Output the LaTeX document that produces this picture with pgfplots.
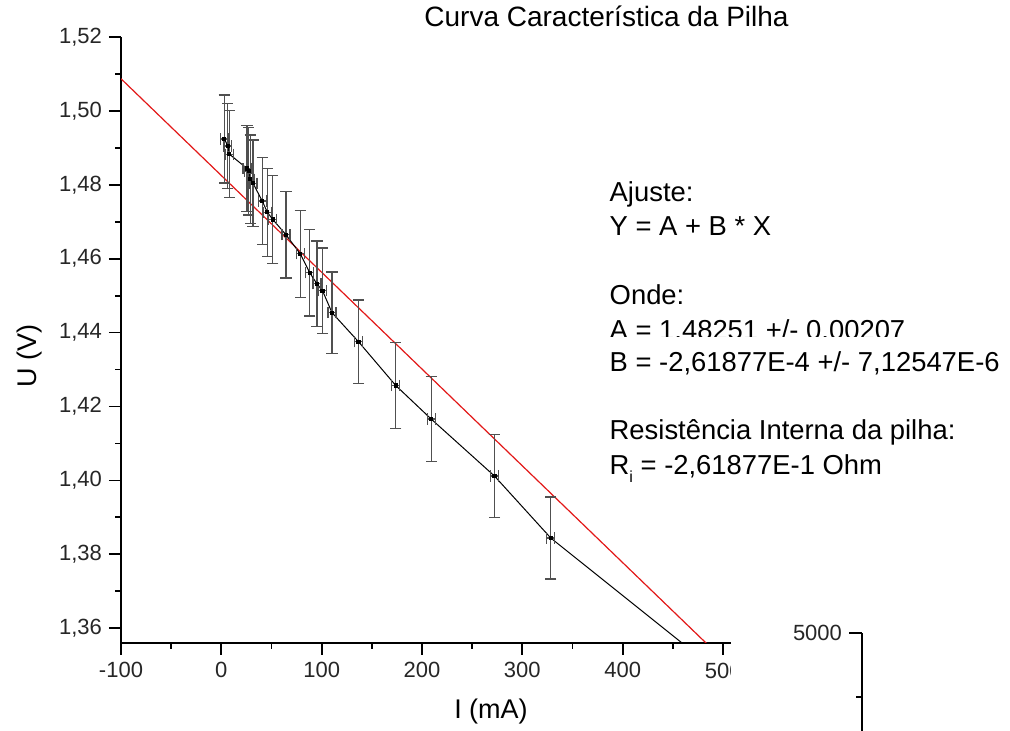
\documentclass[border=0pt]{standalone}
\usepackage{pgfplots}
\usepackage{pgfplotstable}
\pgfplotsset{compat=1.18}
\usepackage{fontspec}
\setmainfont{Liberation Sans}
\definecolor{fitred}{RGB}{226,24,24}
\definecolor{errgray}{RGB}{80,80,80}

\pgfplotstableread{
I U dI dU
3.0 1.4924 4 0.0119
6.5 1.4905 4 0.0116
8.0 1.4883 4 0.0118
25.6 1.4844 4 0.0117
27.2 1.4837 4 0.0119
28.9 1.4815 4 0.0120
31.6 1.4804 4 0.0117
40.8 1.4756 4 0.0118
45.8 1.4726 4 0.0119
51.3 1.4706 4 0.0119
64.4 1.4665 4 0.0117
78.7 1.4613 4 0.0117
88.1 1.4562 4 0.0117
95.3 1.4532 4 0.0116
100.9 1.4513 4 0.0116
110.3 1.4454 4 0.0110
136.8 1.4375 4 0.0113
173.8 1.4257 4 0.0117
209.2 1.4166 4 0.0115
272.2 1.4012 4 0.0112
328.4 1.3844 4 0.0111
556.8 1.3348 4 0.0110
}\datatable

\newcommand{\clippedlabel}{\tikz[baseline=0pt]{\clip (0,0) rectangle (1.2em,0.73em); \node[anchor=base west,inner sep=0pt] at (0,0) {500};}}

\begin{document}
\begin{tikzpicture}
\begin{axis}[
  at={(0,0)}, anchor=south west,
  scale only axis, width=305pt, height=303pt,
  xmin=-100, xmax=508, ymin=1.356, ymax=1.52,
  axis lines=left, axis line style={-, line width=0.9pt},
  tick align=outside,
  major tick length=6pt, minor tick length=3pt,
  tick style={black, line width=0.9pt},
  xtick={-100,0,100,200,300,400,500},
  minor xtick={-50,50,150,250,350,450},
  xticklabels={-100,0,100,200,300,400,{\clippedlabel}},
  ytick={1.36,1.38,1.40,1.42,1.44,1.46,1.48,1.50,1.52},
  minor ytick={1.37,1.39,1.41,1.43,1.45,1.47,1.49,1.51},
  yticklabels={{1,36},{1,38},{1,40},{1,42},{1,44},{1,46},{1,48},{1,50},{1,52}},
  ticklabel style={font=\fontsize{11}{13}\selectfont, text=black!85},
]
\addplot[fitred, line width=0.6pt] coordinates {(-100,1.508698) (508,1.349476)};
\addplot[black, line width=0.5pt, mark=square*, mark size=0.8pt,
  error bars/.cd, x dir=both, x explicit, y dir=both, y explicit,
  error bar style={errgray, line width=0.6pt},
  error mark options={rotate=90, errgray, mark size=2.8pt, line width=0.6pt}]
  table[x=I, y=U, x error=dI, y error=dU] {\datatable};
\end{axis}

\begin{axis}[
  at={(370.5pt,5pt)}, anchor=north west,
  scale only axis, width=20pt, height=128pt,
  xmin=0, xmax=1, ymin=3000, ymax=5000,
  hide x axis, axis y line=left, axis line style={-, line width=0.9pt},
  tick align=outside,
  major tick length=6.5pt, minor tick length=3pt,
  tick style={black, line width=0.9pt},
  ytick={3000,4000,5000}, minor ytick={3500,4500},
  yticklabels={,,5000},
  ticklabel style={font=\fontsize{11}{13}\selectfont, text=black!85},
]
\addplot[draw=none] coordinates {(0,5000)};
\end{axis}

\node[anchor=base, font=\fontsize{14}{16}\selectfont] at (242.75pt,308pt) {Curva Característica da Pilha};
\node[anchor=base, font=\fontsize{13.5}{15}\selectfont] at (185pt,-38pt) {I (mA)};
\node[anchor=base, rotate=90, font=\fontsize{13.5}{15}\selectfont] at (-42pt,143.5pt) {U (V)};

\begin{scope}[every node/.style={anchor=base west, inner sep=0pt, font=\fontsize{13.7}{16}\selectfont}]
\node at (244.15pt,220.65pt) {Ajuste:};
\node at (244.15pt,203.5pt) {Y = A + B * X};
\node at (244.15pt,169pt) {Onde:};
\begin{scope}
\clip (230pt,153pt) rectangle (470pt,166pt);
\node at (244.15pt,151.5pt) {A = 1,48251 +/- 0,00207};
\end{scope}
\node at (244.15pt,135.65pt) {B = -2,61877E-4 +/- 7,12547E-6};
\node at (244.15pt,101.5pt) {Resistência Interna da pilha:};
\node at (244.15pt,84pt) {R\raisebox{-0.55ex}{\fontsize{8}{8}\selectfont i} = -2,61877E-1 Ohm};
\end{scope}

\pgfresetboundingbox
\useasboundingbox (-60.5pt,-44pt) rectangle (444.5pt,321.5pt);
\end{tikzpicture}
\end{document}
